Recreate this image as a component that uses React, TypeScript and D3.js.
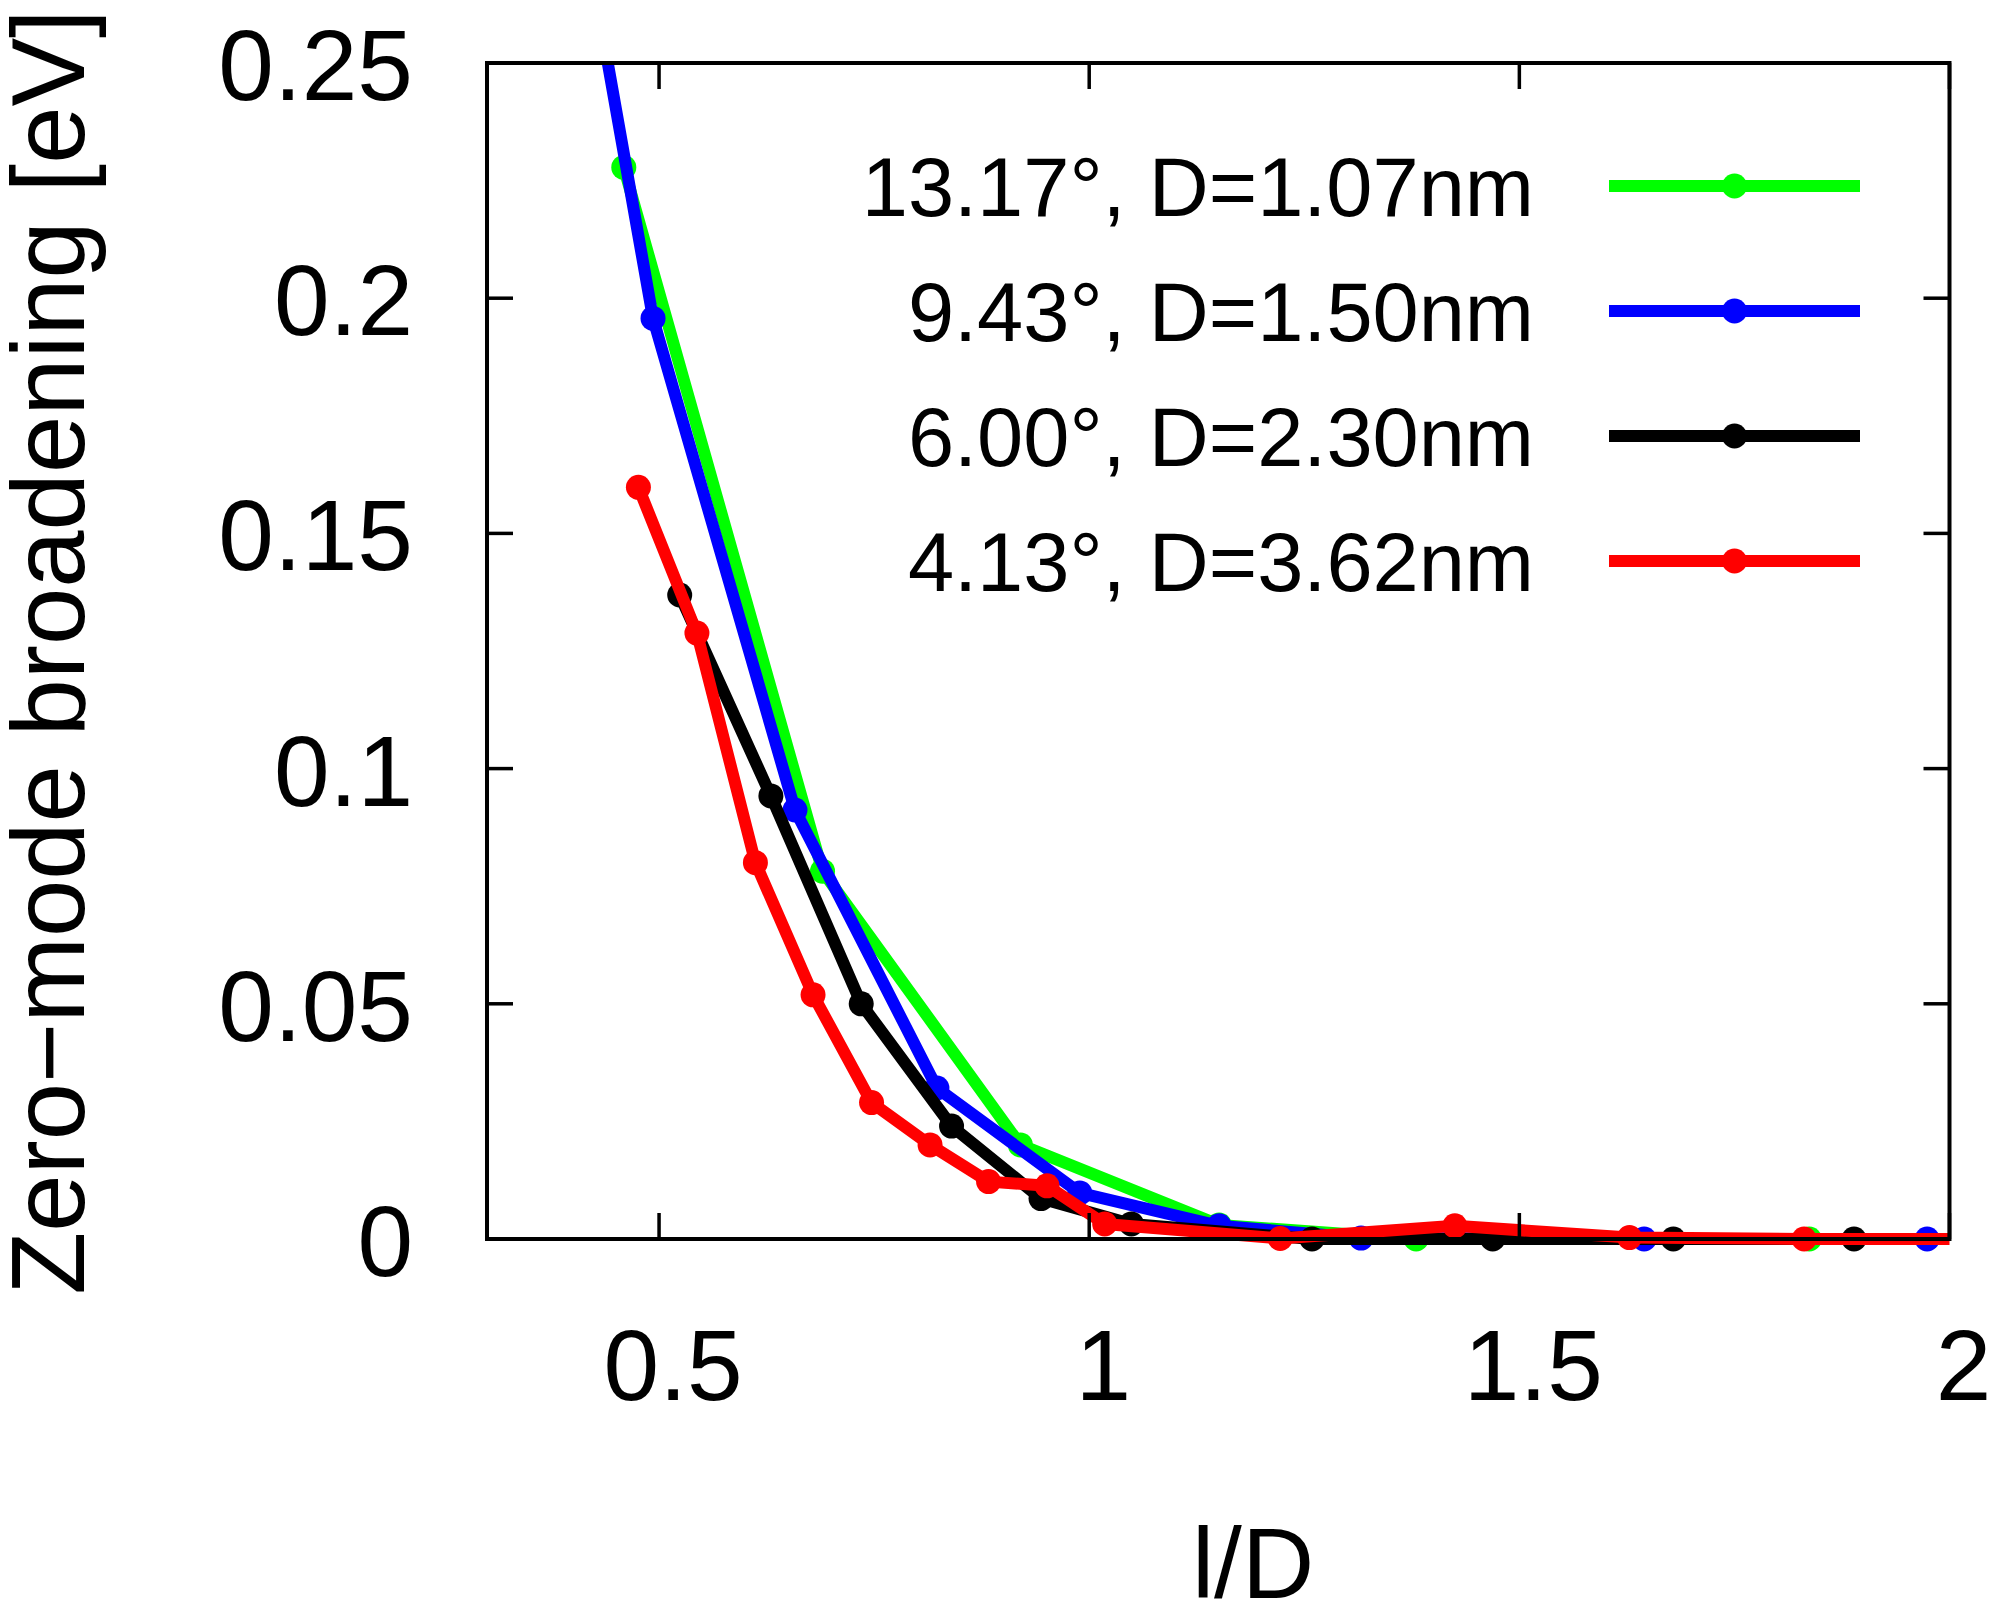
import React from 'react';
import * as d3 from 'd3';

// Series data: l/D versus zero-mode broadening (eV)
const greenX = [0.459, 0.690, 0.920, 1.151, 1.380, 1.837];
const greenY = [0.2278, 0.0782, 0.0200, 0.0030, 0.0000, 0.0000];

const blueX = [0.329, 0.493, 0.658, 0.823, 0.989, 1.151, 1.316, 1.645, 1.974];
const blueY = [0.365, 0.1957, 0.0912, 0.0321, 0.0098, 0.0028, 0.0002, 0.0000, 0.0000];

const blackX = [0.524, 0.630, 0.735, 0.840, 0.944, 1.049, 1.259, 1.469, 1.679, 1.889];
const blackY = [0.1369, 0.0942, 0.0500, 0.0240, 0.0086, 0.0032, 0.0000, 0.0000, 0.0000, 0.0000];

const redX = [0.476, 0.544, 0.612, 0.679, 0.747, 0.815, 0.883, 0.951, 1.018, 1.222, 1.425, 1.628, 1.831, 2.034];
const redY = [0.1598, 0.1288, 0.0800, 0.0519, 0.0290, 0.0200, 0.0122, 0.0113, 0.0032, 0.0001, 0.0028, 0.0003, 0.0000, 0.0000];

const seriesLabels = ['13.17°, D=1.07nm', '9.43°, D=1.50nm', '6.00°, D=2.30nm', '4.13°, D=3.62nm'];
const seriesColors = ['#00ff00', '#0000ff', '#000000', '#ff0000'];

const xTicks = [0.5, 1, 1.5, 2];
const xTickLabels = ['0.5', '1', '1.5', '2'];
const yTicks = [0, 0.05, 0.1, 0.15, 0.2, 0.25];
const yTickLabels = ['0', '0.05', '0.1', '0.15', '0.2', '0.25'];

const xDomain: [number, number] = [0.3, 2];
const yDomain: [number, number] = [0, 0.25];

const W = 1991;
const H = 1608;
const PLOT = { left: 487, right: 1949.5, top: 63, bottom: 1239 };
const FONT = '"Liberation Sans", Arial, Helvetica, sans-serif';

type Pt = [number, number];

// Liang–Barsky clip of one segment against the plot rectangle
function clipSeg(a: Pt, b: Pt, xmin: number, xmax: number, ymin: number, ymax: number): [Pt, Pt] | null {
  let t0 = 0;
  let t1 = 1;
  const dx = b[0] - a[0];
  const dy = b[1] - a[1];
  const p = [-dx, dx, -dy, dy];
  const q = [a[0] - xmin, xmax - a[0], a[1] - ymin, ymax - a[1]];
  for (let i = 0; i < 4; i++) {
    if (p[i] === 0) {
      if (q[i] < 0) return null;
    } else {
      const r = q[i] / p[i];
      if (p[i] < 0) {
        if (r > t1) return null;
        if (r > t0) t0 = r;
      } else {
        if (r < t0) return null;
        if (r < t1) t1 = r;
      }
    }
  }
  return [
    [a[0] + t0 * dx, a[1] + t0 * dy],
    [a[0] + t1 * dx, a[1] + t1 * dy],
  ];
}

function clipPolyline(pts: Pt[]): Pt[][] {
  const runs: Pt[][] = [];
  let cur: Pt[] | null = null;
  for (let i = 0; i < pts.length - 1; i++) {
    const s = clipSeg(pts[i], pts[i + 1], PLOT.left, PLOT.right, PLOT.top, PLOT.bottom);
    if (!s) {
      cur = null;
      continue;
    }
    if (cur && Math.abs(cur[cur.length - 1][0] - s[0][0]) < 1e-6 && Math.abs(cur[cur.length - 1][1] - s[0][1]) < 1e-6) {
      cur.push(s[1]);
    } else {
      cur = [s[0], s[1]];
      runs.push(cur);
    }
  }
  return runs;
}

export default function App() {
  const x = d3.scaleLinear().domain(xDomain).range([PLOT.left, PLOT.right]);
  const y = d3.scaleLinear().domain(yDomain).range([PLOT.bottom, PLOT.top]);
  const line = d3.line<Pt>().x((d) => d[0]).y((d) => d[1]);

  const series = [
    { xs: greenX, ys: greenY },
    { xs: blueX, ys: blueY },
    { xs: blackX, ys: blackY },
    { xs: redX, ys: redY },
  ];

  const lw = 12;
  const r = 12.5;
  const tickLen = 26;
  const tickW = 3.5;

  const legendRowY = (i: number) => 186 + i * 125;

  return (
    <div style={{ position: 'absolute', left: 0, top: 0 }}>
      <svg width={W} height={H} viewBox={`0 0 ${W} ${H}`} style={{ display: 'block', background: '#fff' }}>
        <rect x={0} y={0} width={W} height={H} fill="#fff" />

        {/* data series: line first, then points, in plotting order */}
        {series.map((s, si) => {
          const pts: Pt[] = s.xs.map((xv, i) => [x(xv), y(s.ys[i])]);
          const runs = clipPolyline(pts);
          const inside = s.xs
            .map((xv, i) => ({ xv, yv: s.ys[i] }))
            .filter((d) => d.xv >= xDomain[0] && d.xv <= xDomain[1] && d.yv >= yDomain[0] && d.yv <= yDomain[1]);
          return (
            <g key={si}>
              {runs.map((run, ri) => (
                <path
                  key={ri}
                  d={line(run) || ''}
                  fill="none"
                  stroke={seriesColors[si]}
                  strokeWidth={lw}
                  strokeLinejoin="round"
                  strokeLinecap="butt"
                />
              ))}
              {inside.map((d, i) => (
                <circle key={i} cx={x(d.xv)} cy={y(d.yv)} r={r} fill={seriesColors[si]} />
              ))}
            </g>
          );
        })}

        {/* legend */}
        {seriesLabels.map((lab, i) => (
          <g key={lab}>
            <text
              x={1534}
              y={legendRowY(i) + 30}
              textAnchor="end"
              fontFamily={FONT}
              fontSize={83}
              fill="#000"
            >
              {lab}
            </text>
            <line x1={1609} x2={1860} y1={legendRowY(i)} y2={legendRowY(i)} stroke={seriesColors[i]} strokeWidth={lw} />
            <circle cx={1734.5} cy={legendRowY(i)} r={r} fill={seriesColors[i]} />
          </g>
        ))}

        {/* ticks, mirrored on all four sides */}
        {yTicks.map((t) => (
          <g key={`yt${t}`}>
            <line x1={PLOT.left} x2={PLOT.left + tickLen} y1={y(t)} y2={y(t)} stroke="#000" strokeWidth={tickW} />
            <line x1={PLOT.right} x2={PLOT.right - tickLen} y1={y(t)} y2={y(t)} stroke="#000" strokeWidth={tickW} />
          </g>
        ))}
        {xTicks.map((t) => (
          <g key={`xt${t}`}>
            <line x1={x(t)} x2={x(t)} y1={PLOT.bottom} y2={PLOT.bottom - tickLen} stroke="#000" strokeWidth={tickW} />
            <line x1={x(t)} x2={x(t)} y1={PLOT.top} y2={PLOT.top + tickLen} stroke="#000" strokeWidth={tickW} />
          </g>
        ))}

        {/* border */}
        <rect
          x={PLOT.left}
          y={PLOT.top}
          width={PLOT.right - PLOT.left}
          height={PLOT.bottom - PLOT.top}
          fill="none"
          stroke="#000"
          strokeWidth={4}
        />

        {/* tick labels */}
        {yTicks.map((t, i) => (
          <text
            key={`yl${t}`}
            x={413}
            y={y(t) + 37}
            textAnchor="end"
            fontFamily={FONT}
            fontSize={100}
            fill="#000"
          >
            {yTickLabels[i]}
          </text>
        ))}
        {xTicks.map((t, i) => (
          <text
            key={`xl${t}`}
            x={x(t) + 14}
            y={1400}
            textAnchor="middle"
            fontFamily={FONT}
            fontSize={100}
            fill="#000"
          >
            {xTickLabels[i]}
          </text>
        ))}

        {/* axis titles */}
        <text x={1253} y={1598} textAnchor="middle" fontFamily={FONT} fontSize={100} fill="#000">
          l/D
        </text>
        <text
          transform="translate(84,652) rotate(-90)"
          textAnchor="middle"
          fontFamily={FONT}
          fontSize={103}
          fill="#000"
        >
          Zero−mode broadening [eV]
        </text>
      </svg>
    </div>
  );
}
